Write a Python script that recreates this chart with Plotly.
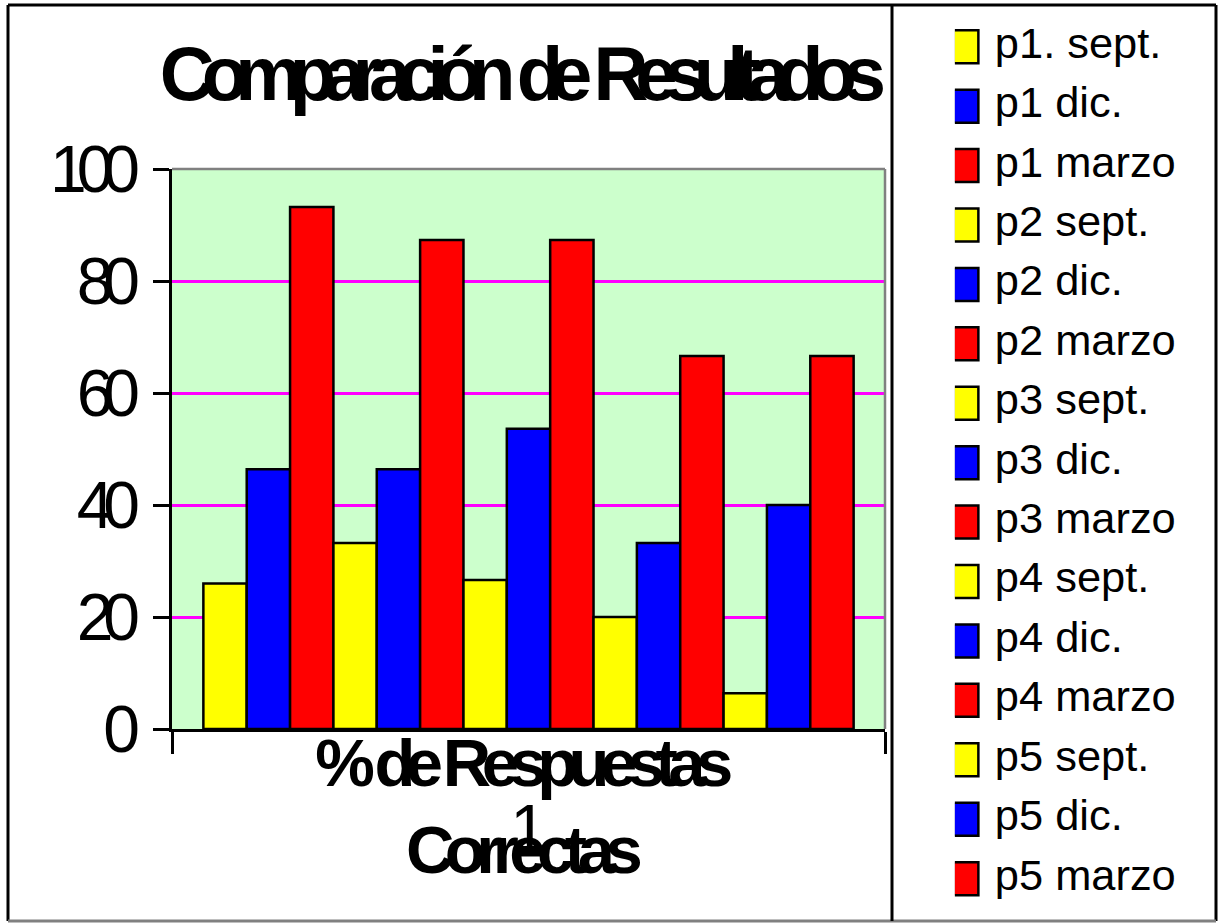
import plotly.graph_objects as go

# ---- data ----
category = ["1"]
series_names = ["p1. sept.", "p1 dic.", "p1 marzo",
                "p2 sept.", "p2 dic.", "p2 marzo",
                "p3 sept.", "p3 dic.", "p3 marzo",
                "p4 sept.", "p4 dic.", "p4 marzo",
                "p5 sept.", "p5 dic.", "p5 marzo"]
series_values = [26.0, 46.4, 93.2,
                 33.2, 46.4, 87.3,
                 26.6, 53.6, 87.3,
                 20.0, 33.2, 66.6,
                 6.4, 40.0, 66.6]
series_colors = ["#FFFF00", "#0000FF", "#FF0000"] * 5
y_ticks = [0, 20, 40, 60, 80, 100]

title_text = "Comparación de Resultados"
x_title_lines = ["% de Respuestas", "Correctas"]

FONT = "Liberation Sans, Arial, Helvetica, sans-serif"

fig = go.Figure()
for name, val, col in zip(series_names, series_values, series_colors):
    fig.add_trace(go.Bar(
        x=category, y=[val], name=name,
        marker=dict(color=col, line=dict(color="black", width=2.5)),
    ))

fig.update_layout(
    width=1221, height=923,
    margin=dict(l=172, r=336, t=169, b=194, autoexpand=False),
    paper_bgcolor="white", plot_bgcolor="#CCFFCC",
    barmode="group", bargap=0.088, bargroupgap=0,
    font=dict(family=FONT, color="black"),
    title=dict(text="<b>" + title_text + "</b>",
               font=dict(size=76, family=FONT, color="black"),
               x=0.423, xref="container", xanchor="center",
               y=1 - 73 / 923, yref="container", yanchor="middle"),
    showlegend=True,
    legend=dict(x=1.098, xanchor="left", y=1.291, yanchor="top",
                maxheight=920,
                font=dict(size=43.4, family=FONT, color="black"),
                bgcolor="rgba(0,0,0,0)", borderwidth=0,
                itemclick=False, itemdoubleclick=False),
)

fig.update_xaxes(
    type="category", range=[-0.5, 0.5],
    showline=True, linecolor="black", linewidth=2.5,
    ticks="outside", tickson="boundaries", ticklen=22, tickwidth=2.5, tickcolor="black",
    showgrid=False, zeroline=False,
    tickfont=dict(size=66, family=FONT, color="black"),
    ticklabelstandoff=40,
)
fig.update_yaxes(
    range=[0, 100], tickvals=y_ticks,
    showline=True, linecolor="black", linewidth=2.5,
    ticks="outside", ticklen=16, tickwidth=2.5, tickcolor="black",
    showgrid=True, gridcolor="#FF00FF", gridwidth=3, zeroline=False,
    tickfont=dict(size=66, family=FONT, color="black"),
    ticklabelstandoff=10,
)

# x-axis title as annotation (overlaps the tick label as in the original)
fig.add_annotation(
    text="<b>" + "<br>".join(x_title_lines) + "</b>",
    xref="paper", yref="paper", x=0.488, y=-0.1375,
    xanchor="center", yanchor="middle", showarrow=False,
    font=dict(size=67, family=FONT, color="black"),
)

# plot-area top/right border (gray)
fig.add_shape(type="line", xref="paper", yref="paper", x0=0, x1=1, y0=1, y1=1,
              line=dict(color="#808080", width=2.5), layer="above")
fig.add_shape(type="line", xref="paper", yref="paper", x0=1, x1=1, y0=0, y1=1,
              line=dict(color="#808080", width=2.5), layer="above")

# outer frame and legend divider
def px2x(px):
    return (px - 172) / 713.0

def py2y(py):
    return 1 - (py - 169) / 560.0

L, R, T, B = px2x(8), px2x(1216), py2y(5), py2y(921)
for (x0, y0, x1, y1, c) in [(L, T, R, T, "black"), (L, T, L, B, "black"),
                            (R, T, R, B, "black"), (L, B, R, B, "#808080"),
                            (px2x(892), T, px2x(892), B, "black")]:
    fig.add_shape(type="line", xref="paper", yref="paper",
                  x0=x0, y0=y0, x1=x1, y1=y1,
                  line=dict(color=c, width=3), layer="above")

post = """
var gd = document.getElementById('{plot_id}');
function fixText(){
  document.body.style.margin = '0';
  gd.querySelectorAll('.gtitle').forEach(function(e){ e.style.letterSpacing = '-13px'; e.style.wordSpacing = '6px'; });
  gd.querySelectorAll('.ytick text').forEach(function(e){ e.style.letterSpacing = '-10px'; });
  gd.querySelectorAll('.annotation-text').forEach(function(e){ e.style.letterSpacing = '-9.5px'; });
  gd.querySelectorAll('.legendpoints path').forEach(function(p){
    p.setAttribute('d', 'M3.5,22.5H-21.5V-10.5H3.5Z');
  });
}
fixText();
setTimeout(fixText, 50);
setTimeout(fixText, 300);
gd.on('plotly_afterplot', fixText);
"""

fig.write_html("out.html", post_script=post, config={"displayModeBar": False})
